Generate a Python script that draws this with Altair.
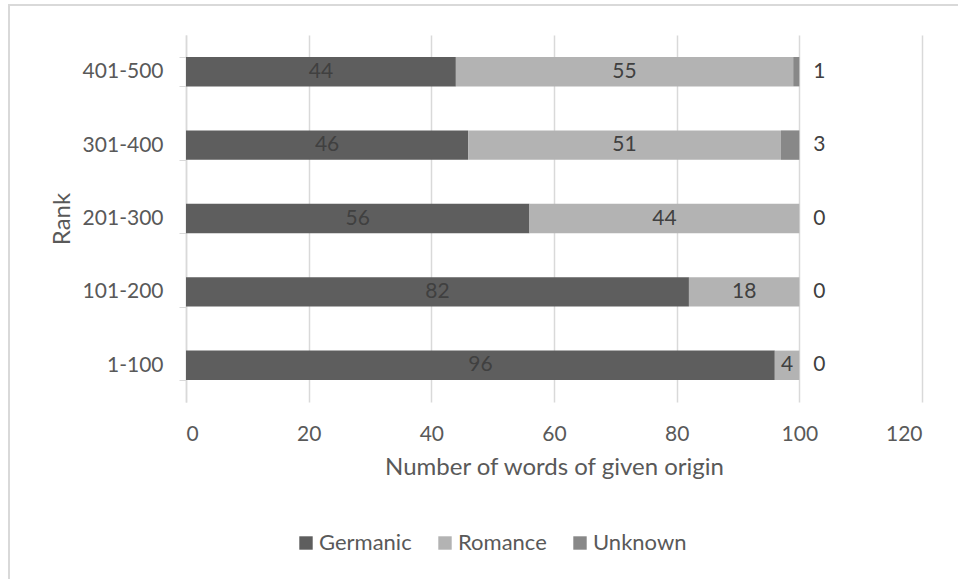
import altair as alt
import pandas as pd

ranks = ["401-500", "301-400", "201-300", "101-200", "1-100"]
germanic = [44, 46, 56, 82, 96]
romance = [55, 51, 44, 18, 4]
unknown = [1, 3, 0, 0, 0]
origins = ["Germanic", "Romance", "Unknown"]
colors = ["#5e5e5e", "#b3b3b3", "#888888"]
x_ticks = [0, 20, 40, 60, 80, 100, 120]

rows = []
for i, r in enumerate(ranks):
    for k, (o, vals) in enumerate(zip(origins, [germanic, romance, unknown])):
        rows.append({"Rank": r, "Origin": o, "Value": vals[i], "ord": k})
df = pd.DataFrame(rows)

FONT = "Lato"
TXT = "#595959"
GRID = "#d9d9d9"
LBL = 21
TTL = 24

base = alt.Chart(df)

y_enc = alt.Y(
    "Rank:N",
    sort=ranks,
    scale=alt.Scale(paddingInner=0.6, paddingOuter=0.3),
    axis=alt.Axis(
        title="Rank",
        titleFontSize=TTL,
        titleFontWeight="normal",
        titleColor=TXT,
        titleFont=FONT,
        titleX=-124,
        titleY=183.5,
        titleAngle=-90,
        titleAlign="center",
        titleBaseline="middle",
        labelFontSize=LBL,
        labelColor=TXT,
        labelFont=FONT,
        labelPadding=16,
        tickBand="extent",
        tickSize=7,
        tickColor=GRID,
        domainColor=GRID,
        domainWidth=1.5,
        grid=False,
    ),
)

bars = base.mark_bar(size=29.4).encode(
    x=alt.X(
        "Value:Q",
        stack="zero",
        scale=alt.Scale(domain=[0, 120], nice=False),
        axis=alt.Axis(
            values=x_ticks,
            title="Number of words of given origin",
            titleFontSize=TTL,
            titleFontWeight="normal",
            titleColor=TXT,
            titleFont=FONT,
            titlePadding=11,
            labelFontSize=LBL,
            labelColor=TXT,
            labelFont=FONT,
            labelPadding=21,
            ticks=False,
            domain=False,
            grid=True,
            gridColor=GRID,
            gridWidth=1.5,
        ),
    ),
    y=y_enc,
    color=alt.Color(
        "Origin:N",
        scale=alt.Scale(domain=origins, range=colors),
        legend=alt.Legend(
            title=None,
            orient="none",
            legendX=109,
            legendY=497,
            direction="horizontal",
            symbolType="square",
            symbolSize=180,
            symbolStrokeWidth=0,
            labelFontSize=22,
            labelColor=TXT,
            labelFont=FONT,
            labelOffset=2,
            columnPadding=22,
        ),
    ),
    order=alt.Order("ord:Q"),
)

stacked = base.transform_stack(
    stack="Value", groupby=["Rank"], as_=["x0", "x1"], sort=[alt.SortField("ord")]
).transform_calculate(mid="(datum.x0 + datum.x1) / 2")

inner_labels = stacked.transform_filter(
    "datum.Origin != 'Unknown'"
).mark_text(fontSize=LBL, font=FONT, color="#404040", baseline="middle", align="center").encode(
    x=alt.X("mid:Q"),
    y=alt.Y("Rank:N", sort=ranks),
    text=alt.Text("Value:Q"),
)

unknown_labels = stacked.transform_filter(
    "datum.Origin == 'Unknown'"
).mark_text(fontSize=LBL, font=FONT, color="#404040", baseline="middle", align="center", dx=20).encode(
    x=alt.X("x1:Q"),
    y=alt.Y("Rank:N", sort=ranks),
    text=alt.Text("Value:Q"),
)

border = alt.Chart(pd.DataFrame({"a": [0]})).mark_rect(
    fill=None, stroke=GRID, strokeWidth=2
).encode(
    x=alt.value(-177), x2=alt.value(800), y=alt.value(-30), y2=alt.value(600)
)

chart = alt.layer(border, bars, inner_labels, unknown_labels).properties(
    width=736,
    height=367,
    autosize=alt.AutoSizeParams(type="none"),
    padding={"left": 186, "top": 35, "right": 36, "bottom": 177},
    background="white",
).configure_view(stroke=None)

chart.save("out.html", embed_options={"renderer": "svg", "actions": False})
